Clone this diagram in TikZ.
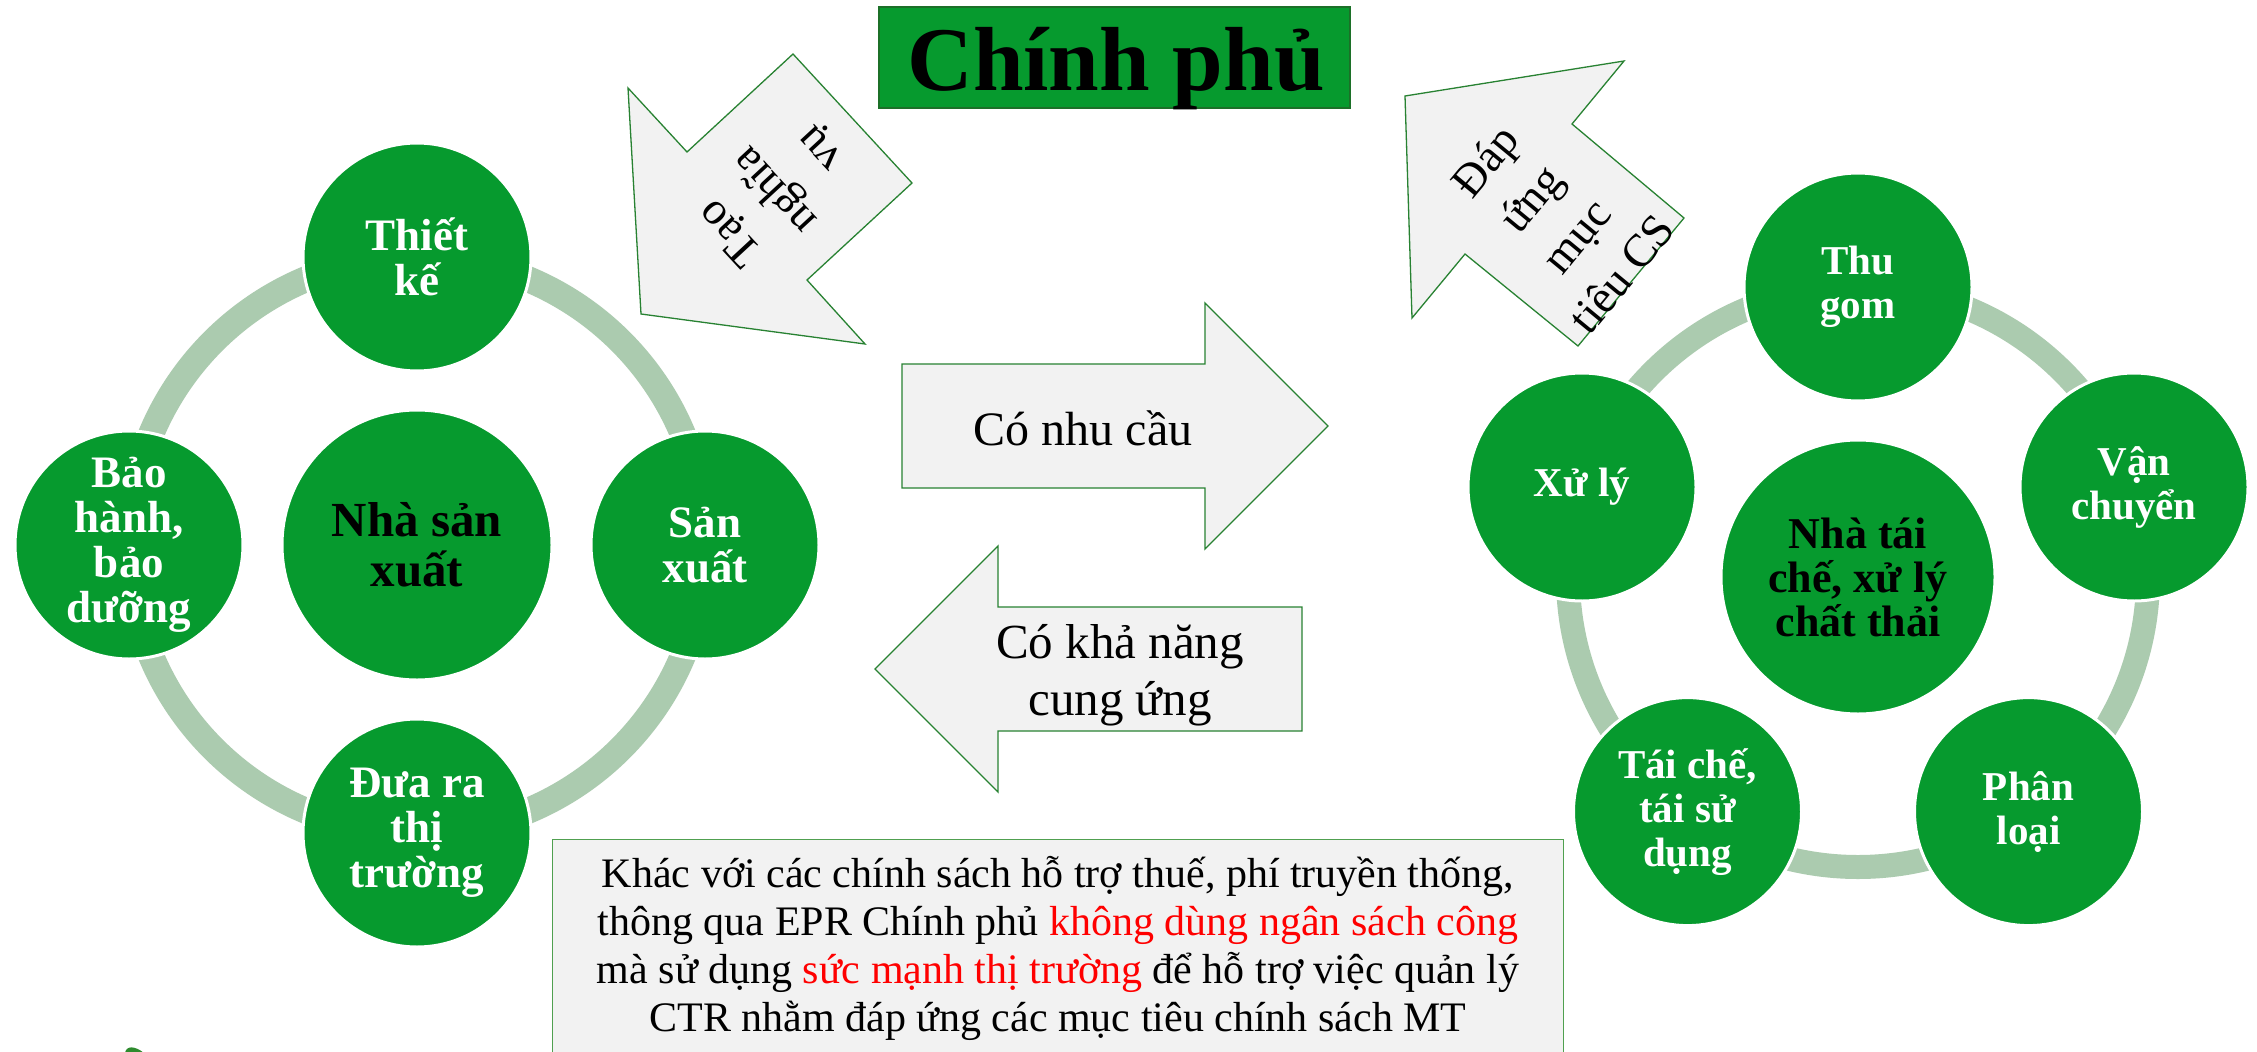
\documentclass[tikz,border=0pt]{standalone}
\usepackage{fontspec}
\setmainfont{Liberation Serif}
\definecolor{cgreen}{RGB}{6,154,46}
\definecolor{ringc}{RGB}{171,203,175}
\definecolor{afill}{RGB}{242,242,242}
\definecolor{aline}{RGB}{40,130,50}
\definecolor{tborder}{RGB}{28,112,40}
\definecolor{nline}{RGB}{80,160,80}
\definecolor{blobc}{RGB}{46,139,46}
\tikzset{
  ringnode/.style={circle, draw=ringc, line width=26pt, inner sep=0pt},
  circL/.style={circle, fill=cgreen, draw=white, line width=3pt, minimum size=228pt, inner sep=0pt,
    align=center, text=white, font=\fontsize{45}{45}\selectfont\bfseries},
  circR/.style={circL, font=\fontsize{41}{44}\selectfont\bfseries},
  ctrL/.style={minimum size=270pt, text=black, font=\fontsize{49}{50}\selectfont\bfseries},
  ctrR/.style={minimum size=274pt, text=black, font=\fontsize{44}{44}\selectfont\bfseries},
  blockarrow/.style={fill=afill, draw=aline, line width=1.3pt, line join=miter},
  arrowtxt/.style={font=\fontsize{48}{57}\selectfont, align=center, inner sep=0pt, text=black},
  titlebox/.style={fill=cgreen, draw=tborder, line width=2.5pt, minimum width=471pt, minimum height=101pt, inner sep=0pt},
  notebox/.style={fill=afill, draw=nline, line width=1.2pt, minimum width=1011pt, minimum height=240pt, inner sep=0pt, anchor=north west},
  notetxt/.style={font=\fontsize{42}{48}\selectfont, align=center, inner sep=0pt, text=black}
}
\begin{document}
\begin{tikzpicture}[x=1pt,y=-1pt]
\useasboundingbox[fill=white] (0,0) rectangle (2257,1052);

% ---------- left cycle ----------
\node[ringnode, minimum size=576pt] (lring) at (417,545) {};
\node[circL] (tk) at (417,257) {Thiết\\kế};
\node[circL] (sx) at (705,545) {Sản\\xuất};
\node[circL] (dr) at (417,833) {Đưa ra\\thị\\trường};
\node[circL] (bh) at (129,545) {Bảo\\hành,\\bảo\\dưỡng};
\node[circL, ctrL] (nsx) at (417,545) {Nhà sản\\xuất};

% ---------- right cycle ----------
\node[ringnode, minimum size=580pt, line width=24pt] (rring) at (1858,577) {};
\node[circR] (tg) at (1858,287) {Thu\\gom};
\node[circR] (vc) at (2134,487) {Vận\\chuyển};
\node[circR] (pl) at (2028.5,811.6) {Phân\\loại};
\node[circR] (tc) at (1687.5,811.6) {Tái chế,\\tái sử\\dụng};
\node[circR] (xl) at (1582,487) {Xử lý};
\node[circR, ctrR] (ntc) at (1858,577) {Nhà tái\\chế, xử lý\\chất thải};

% ---------- title ----------
\node[titlebox] (gov) at (1114.5,57.5) {};
\node[anchor=base, inner sep=0pt, font=\fontsize{91}{91}\selectfont\bfseries] (govtxt) at (1116,90.7) {Chính phủ};

% ---------- block arrows ----------
\draw[blockarrow] (902,364) -- (1205,364) -- (1205,303) -- (1328,426) -- (1205,549) -- (1205,488) -- (902,488) -- cycle;
\node[arrowtxt, anchor=base] (demand) at (1083,445) {Có nhu cầu};

\draw[blockarrow] (1302,607) -- (998,607) -- (998,546) -- (875,669) -- (998,792) -- (998,731) -- (1302,731) -- cycle;
\node[arrowtxt, font=\fontsize{49}{57}\selectfont] (supply) at (1120,675) {Có khả năng\\cung ứng};

\draw[blockarrow] (628,88) -- (687,152) -- (793,54) -- (912,183) -- (807,280) -- (865,344) -- (641,314) -- cycle;
\node[arrowtxt, font=\fontsize{46}{61}\selectfont, rotate=132.8] (oblig) at (776,190) {Tạo\\nghĩa\\vụ};

\draw[blockarrow] (1405,96) -- (1624,61) -- (1572,124) -- (1684,218) -- (1578,346) -- (1465,254) -- (1412,318) -- cycle;
\node[arrowtxt, font=\fontsize{46}{59}\selectfont, rotate=50.5] (goal) at (1553,217) {Đáp\\ứng\\mục\\tiêu CS};

% ---------- note box ----------
\node[notebox] (note) at (552,839) {};
\node[notetxt] (notet) at (1058,948) {Khác với các chính sách hỗ trợ thuế, phí truyền thống,\\
thông qua EPR Chính phủ \textcolor{red}{không dùng ngân sách công}\\
mà sử dụng \textcolor{red}{sức mạnh thị trường} để hỗ trợ việc quản lý\\
CTR nhằm đáp ứng các mục tiêu chính sách MT};

% ---------- fragment at bottom left ----------
\fill[blobc] (125,1053) .. controls (126,1046) and (134,1045) .. (144,1053) -- cycle;
\end{tikzpicture}
\end{document}
